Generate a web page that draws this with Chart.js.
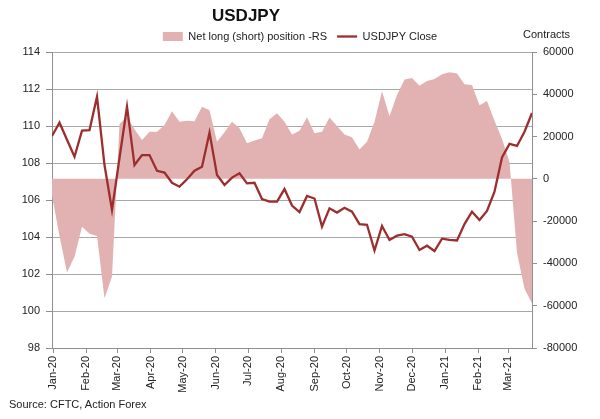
<!DOCTYPE html>
<html>
<head>
<meta charset="utf-8">
<script src="https://cdn.jsdelivr.net/npm/chart.js@4/dist/chart.umd.min.js"></script>
<style>
  html, body { margin: 0; padding: 0; background: #fff; }
  #wrap { position: relative; width: 600px; height: 419px; font-family: "Liberation Sans", Arial, sans-serif; color: #222; }
  #c { position: absolute; left: 0; top: 0; }
  .txt { position: absolute; white-space: nowrap; }
  #title { left: 196px; width: 100px; text-align: center; top: 6px; font-size: 17px; font-weight: bold; color: #111; }
  #contracts { left: 523px; top: 28px; font-size: 11px; }
  #source { left: 9px; top: 398px; font-size: 11px; }
</style>
</head>
<body>
<div id="wrap">
  <canvas id="c" width="600" height="419"></canvas>
  <div class="txt" id="title">USDJPY</div>
  <div class="txt" id="contracts">Contracts</div>
  <div class="txt" id="source">Source: CFTC, Action Forex</div>
</div>
<script>
// ---- Data ----
const weekDates = [
  '2019-12-31','2020-01-07','2020-01-14','2020-01-21','2020-01-28','2020-02-04','2020-02-11','2020-02-18','2020-02-25',
  '2020-03-03','2020-03-10','2020-03-17','2020-03-24','2020-03-31','2020-04-07','2020-04-14','2020-04-21','2020-04-28',
  '2020-05-05','2020-05-12','2020-05-19','2020-05-26','2020-06-02','2020-06-09','2020-06-16','2020-06-23','2020-06-30',
  '2020-07-07','2020-07-14','2020-07-21','2020-07-28','2020-08-04','2020-08-11','2020-08-18','2020-08-25',
  '2020-09-01','2020-09-08','2020-09-15','2020-09-22','2020-09-29','2020-10-06','2020-10-13','2020-10-20','2020-10-27',
  '2020-11-03','2020-11-10','2020-11-17','2020-11-24','2020-12-01','2020-12-08','2020-12-15','2020-12-22','2020-12-29',
  '2021-01-05','2021-01-12','2021-01-19','2021-01-26','2021-02-02','2021-02-09','2021-02-16','2021-02-23',
  '2021-03-02','2021-03-09','2021-03-16','2021-03-23'
];
const usdjpyClose = [
  109.46,110.18,109.26,108.34,109.75,109.78,111.58,107.89,105.46,108.27,111.04,107.89,108.43,108.43,107.58,107.48,
  106.93,106.72,107.12,107.58,107.80,109.64,107.35,106.81,107.21,107.44,106.90,106.93,106.05,105.91,105.91,106.59,
  105.70,105.35,106.22,106.08,104.56,105.55,105.32,105.58,105.37,104.70,104.66,103.27,104.60,103.84,104.07,104.15,
  104.02,103.30,103.53,103.24,103.91,103.85,103.81,104.70,105.37,104.92,105.41,106.45,108.30,109.03,108.92,109.69,110.70
];
const netPosition = [
  -8000,-27000,-44300,-36800,-22600,-26000,-27000,-56500,-46200,26000,29400,23500,18400,22300,22300,25500,
  32000,27000,27500,27200,34100,32400,17600,22000,27000,23900,16800,18100,19200,28200,31000,27000,
  21000,22800,29100,21600,22300,29000,25000,21000,19700,13900,17600,27000,41400,29600,39700,47000,
  47700,44000,46300,47200,49500,50400,49800,44800,44400,34800,36800,27500,19000,8000,-35000,-52000,-59000
];
const monthStarts = ['2020-01-01','2020-02-01','2020-03-01','2020-04-01','2020-05-01','2020-06-01','2020-07-01',
  '2020-08-01','2020-09-01','2020-10-01','2020-11-01','2020-12-01','2021-01-01','2021-02-01','2021-03-01'];
const monthLabels = ['Jan-20','Feb-20','Mar-20','Apr-20','May-20','Jun-20','Jul-20','Aug-20','Sep-20','Oct-20',
  'Nov-20','Dec-20','Jan-21','Feb-21','Mar-21'];
const leftTicks = [98,100,102,104,106,108,110,112,114];
const rightTicks = [-80000,-60000,-40000,-20000,0,20000,40000,60000];
const seriesNames = ['Net long (short) position -RS','USDJPY Close'];

// ---- Helpers ----
const DAY = 86400000;
const base = Date.parse('2020-01-01T00:00:00Z');
const toDay = s => (Date.parse(s + 'T00:00:00Z') - base) / DAY;
const xDays = weekDates.map(toDay);
const monthDays = monthStarts.map(toDay);

const closePts = xDays.map((x, i) => ({ x, y: usdjpyClose[i] }));
const netPts = xDays.map((x, i) => ({ x, y: netPosition[i] }));

const FONT = { family: '"Liberation Sans", Arial, sans-serif', size: 11 };
const GRID = '#a8a8a8';
const AXIS = '#8f8f8f';

new Chart(document.getElementById('c'), {
  type: 'line',
  data: {
    datasets: [
      {
        label: seriesNames[0], data: netPts, yAxisID: 'y2', fill: 'origin',
        backgroundColor: '#E2B2B2', borderColor: '#E2B2B2', borderWidth: 0,
        pointRadius: 0, tension: 0, order: 2, pointStyle: 'rect'
      },
      {
        label: seriesNames[1], data: closePts, yAxisID: 'y', fill: false,
        borderColor: '#9C2E2E', backgroundColor: '#9C2E2E', borderWidth: 2.3,
        pointRadius: 0, tension: 0, order: 1, pointStyle: 'line'
      }
    ]
  },
  options: {
    responsive: false,
    animation: false,
    layout: { padding: { top: 21, left: 0, right: 0, bottom: 0 } },
    plugins: {
      title: { display: false },
      tooltip: { enabled: false },
      legend: {
        display: true, position: 'top',
        labels: {
          font: FONT, color: '#222', usePointStyle: true, pointStyleWidth: 20, boxHeight: 9,
          padding: 10,
          sort: (a, b) => a.datasetIndex - b.datasetIndex
        }
      }
    },
    scales: {
      x: {
        type: 'linear', min: xDays[0], max: xDays[xDays.length - 1],
        afterBuildTicks: s => { s.ticks = monthDays.map(v => ({ value: v })); },
        afterFit: s => { s.height = 71; },
        ticks: {
          autoSkip: false, maxRotation: 90, minRotation: 90, padding: 3, font: FONT, color: '#222',
          callback: (v, i) => monthLabels[i]
        },
        grid: { drawOnChartArea: false, drawTicks: true, tickLength: 5, color: AXIS },
        border: { display: true, color: AXIS, width: 1 }
      },
      y: {
        position: 'left', min: 98, max: 114,
        afterBuildTicks: s => { s.ticks = leftTicks.map(v => ({ value: v })); },
        afterFit: s => { s.width = 52; },
        ticks: { font: FONT, color: '#222', padding: 6, callback: v => String(v) },
        grid: { color: GRID, lineWidth: 1, drawTicks: true, tickLength: 6, tickColor: AXIS },
        border: { display: true, color: AXIS, width: 1 }
      },
      y2: {
        position: 'right', min: -80000, max: 60000,
        afterBuildTicks: s => { s.ticks = rightTicks.map(v => ({ value: v })); },
        afterFit: s => { s.width = 68; },
        ticks: { font: FONT, color: '#222', padding: 6, callback: v => String(v) },
        grid: { drawOnChartArea: false, drawTicks: true, tickLength: 5, color: AXIS },
        border: { display: true, color: AXIS, width: 1 }
      }
    }
  }
});
</script>
</body>
</html>
